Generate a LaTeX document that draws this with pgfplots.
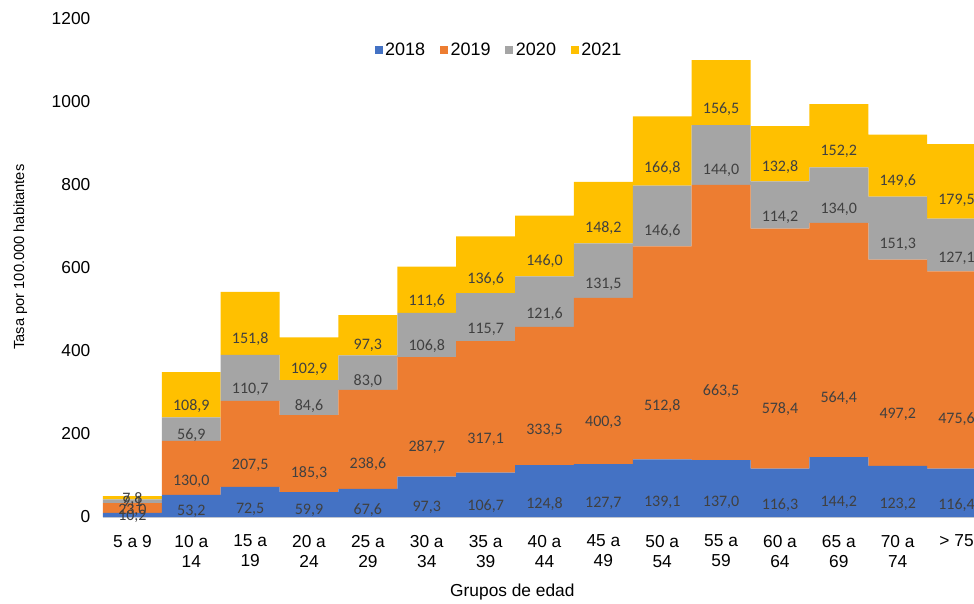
\documentclass[border=0pt]{standalone}
\usepackage{fontspec}
\setmainfont{Liberation Sans}
\newfontfamily\lblfont{Carlito}
\usepackage{pgfplots}
\usepackage{pgfplotstable}
\pgfplotsset{compat=1.18}
\definecolor{cA}{HTML}{4472C4}
\definecolor{cB}{HTML}{ED7D31}
\definecolor{cC}{HTML}{A5A5A5}
\definecolor{cD}{HTML}{FFC000}
\definecolor{lbl}{HTML}{404040}
\pgfplotstableread{
x a b c d
0 10.2 23.0 9.1 7.8
1 53.2 130.0 56.9 108.9
2 72.5 207.5 110.7 151.8
3 59.9 185.3 84.6 102.9
4 67.6 238.6 83.0 97.3
5 97.3 287.7 106.8 111.6
6 106.7 317.1 115.7 136.6
7 124.8 333.5 121.6 146.0
8 127.7 400.3 131.5 148.2
9 139.1 512.8 146.6 166.8
10 137.0 663.5 144.0 156.5
11 116.3 578.4 114.2 132.8
12 144.2 564.4 134.0 152.2
13 123.2 497.2 151.3 149.6
14 116.4 475.6 127.1 179.5
}\data
\pgfplotsset{
  seg/.style={
    fill=#1, draw=none,
    point meta=explicit,
    nodes near coords={\pgfmathprintnumber[fixed,fixed zerofill,precision=1,use comma,assume math mode=true]{\pgfplotspointmeta}},
    every node near coord/.append style={anchor=center, font=\lblfont\fontsize{12}{14}\selectfont, text=lbl, yshift={-0.0778125*\rawy}},
  },
}
\begin{document}
\begin{tikzpicture}
\begin{axis}[
  name=ax,
  scale only axis,
  width=653.25pt, height=373.5pt,
  ybar stacked, bar width=1,
  xmin=-0.5, xmax=14.296,
  ymin=0, ymax=1200,
  enlargelimits=false,
  clip=true,
  ytick={0,200,...,1200},
  xtick={0,...,14},
  xticklabels={5 a 9,{10 a\\14},{15 a\\19},{20 a\\24},{25 a\\29},{30 a\\34},{35 a\\39},{40 a\\44},{45 a\\49},{50 a\\54},{55 a\\59},{60 a\\64},{65 a\\69},{70 a\\74},{> 75}},
  xticklabel style={align=center, font=\fontsize{13}{15}\selectfont, yshift=-10pt},
  yticklabel style={font=\fontsize{13}{16}\selectfont, xshift=-6pt},
  /pgf/number format/assume math mode=true,
  /pgf/number format/set thousands separator={},
  major tick length=0pt,
  axis x line*=bottom, axis y line*=left,
  y axis line style={draw=none},
  x axis line style={draw=black!18, line width=1pt, -},
  every axis x label/.style={at={(axis description cs:0.47,-0.1506)}, anchor=center, font=\fontsize{13}{15}\selectfont},
  every axis y label/.style={at={(axis description cs:-0.0949,0.522)}, rotate=90, anchor=center, font=\fontsize{11}{13}\selectfont},
  xlabel={Grupos de edad},
  ylabel={Tasa por 100.000 habitantes},
  legend columns=4,
  legend style={draw=none, fill=none, at={(0.455,0.938)}, anchor=center, font=\fontsize{13.5}{15}\selectfont,
    /tikz/every even column/.append style={column sep=9pt}},
  legend image code/.code={\fill[#1,draw=none] (0pt,-3pt) rectangle (6pt,3pt);},
]
\addplot[seg=cA, visualization depends on={\thisrow{a} \as \rawy}] table[x=x, y=a, meta=a] {\data};
\addplot[seg=cB, visualization depends on={\thisrow{b} \as \rawy}] table[x=x, y=b, meta=b] {\data};
\addplot[seg=cC, visualization depends on={\thisrow{c} \as \rawy}] table[x=x, y=c, meta=c] {\data};
\addplot[seg=cD, visualization depends on={\thisrow{d} \as \rawy}] table[x=x, y=d, meta=d] {\data};
\legend{2018,2019,2020,2021}
\end{axis}
\pgfresetboundingbox
\path[use as bounding box] ([xshift=-77.25pt,yshift=-64.5pt]ax.south west) rectangle ([yshift=14.25pt]ax.north east);
\end{tikzpicture}
\end{document}
